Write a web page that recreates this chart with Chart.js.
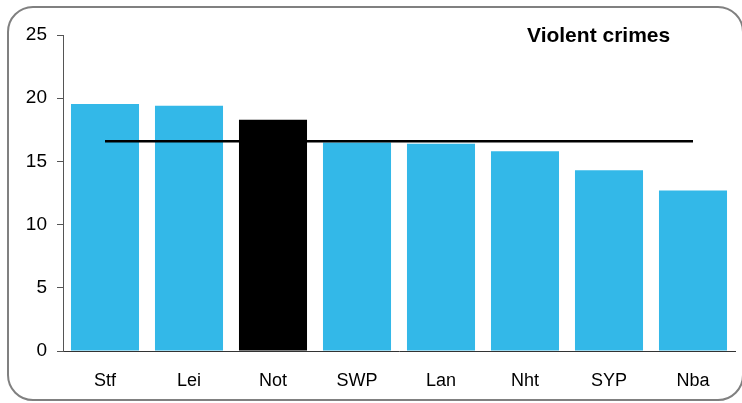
<!DOCTYPE html>
<html>
<head>
<meta charset="utf-8">
<script src="https://cdn.jsdelivr.net/npm/chart.js@4/dist/chart.umd.min.js"></script>
<style>
  html, body { margin: 0; padding: 0; background: #fff; }
  #wrap { position: relative; width: 742px; height: 403px; overflow: hidden; }
  #frame {
    position: absolute; left: 7px; top: 6px; width: 737px; height: 395px;
    box-sizing: border-box; border: 2px solid #808080; border-radius: 26px;
  }
  canvas { position: absolute; left: 0; top: 0; }
</style>
</head>
<body>
<div id="wrap">
  <div id="frame"></div>
  <canvas id="chart" width="742" height="403"></canvas>
</div>
<script>
// ── Data ──
const categories = ['Stf', 'Lei', 'Not', 'SWP', 'Lan', 'Nht', 'SYP', 'Nba'];
const crimeRates = [19.55, 19.4, 18.3, 16.5, 16.4, 15.8, 14.3, 12.7];
const averageRate = [16.6, 16.6, 16.6, 16.6, 16.6, 16.6, 16.6, 16.6];
const yTicks = [0, 5, 10, 15, 20, 25];
const titleText = 'Violent crimes';

const BLUE = '#33B8E8';
const FONT = "'Liberation Sans', Arial, sans-serif";

// highlight Nottinghamshire in black
const barColors = categories.map(c => c === 'Not' ? '#000000' : BLUE);

const titlePlugin = {
  id: 'cornerTitle',
  afterDraw(chart) {
    const ctx = chart.ctx;
    ctx.save();
    ctx.font = `bold 21px ${FONT}`;
    ctx.fillStyle = '#000';
    ctx.textBaseline = 'middle';
    ctx.textAlign = 'left';
    ctx.fillText(titleText, 527, 36);
    ctx.restore();
  },
};

new Chart(document.getElementById('chart'), {
  data: {
    labels: categories,
    datasets: [
      {
        type: 'line',
        data: averageRate,
        borderColor: '#000',
        borderWidth: 2.5,
        pointRadius: 0,
        fill: false,
        order: 0,
      },
      {
        type: 'bar',
        data: crimeRates,
        backgroundColor: barColors,
        borderWidth: 0,
        barPercentage: 0.81,
        categoryPercentage: 1,
        order: 1,
      },
    ],
  },
  options: {
    responsive: false,
    animation: false,
    layout: { padding: { left: 0, top: 35, right: 7, bottom: 0 } },
    plugins: { legend: { display: false }, tooltip: { enabled: false } },
    scales: {
      x: {
        grid: { display: false },
        border: { display: true, color: '#333', width: 1 },
        ticks: { color: '#000', font: { family: FONT, size: 18 }, padding: 11, maxRotation: 0 },
        afterFit(scale) { scale.height = 52; },
      },
      y: {
        min: 0,
        max: 25,
        afterBuildTicks(scale) { scale.ticks = yTicks.map(v => ({ value: v })); },
        grid: { drawOnChartArea: false, drawTicks: true, tickLength: 6, color: '#555' },
        border: { display: true, color: '#555', width: 1 },
        ticks: { color: '#000', font: { family: FONT, size: 19 }, padding: 10 },
        afterFit(scale) { scale.width = 63; },
      },
    },
  },
  plugins: [titlePlugin],
});
</script>
</body>
</html>
